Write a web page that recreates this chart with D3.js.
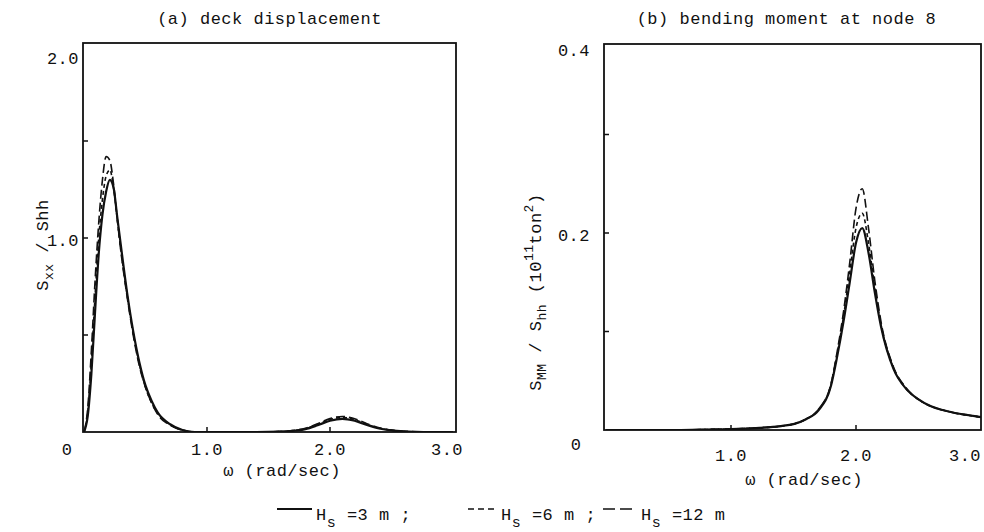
<!DOCTYPE html>
<html>
<head>
<meta charset="utf-8">
<script src="https://cdn.jsdelivr.net/npm/d3@7"></script>
<style>
  body { margin: 0; background: #fff; }
  text { font-family: "Liberation Mono", monospace; font-size: 17px; letter-spacing: 0.5px; fill: #111; }
</style>
</head>
<body>
<div id="graf"></div>
<script>
// I. Datos
// (a) deck displacement
omegaA = [0, 0.03, 0.06, 0.09, 0.12, 0.15, 0.18, 0.21, 0.24, 0.27, 0.30, 0.35, 0.40, 0.45, 0.50,
          0.55, 0.60, 0.70, 0.80, 0.90, 1.0, 1.2, 1.4, 1.6, 1.7, 1.8, 1.9, 2.0, 2.1, 2.2, 2.3,
          2.4, 2.5, 2.6, 2.7, 2.8, 3.0]
sxx3  = [0, 0.08, 0.30, 0.62, 0.92, 1.12, 1.24, 1.30, 1.26, 1.11, 0.96, 0.72, 0.52, 0.36, 0.24,
         0.16, 0.10, 0.04, 0.01, 0, 0, 0, 0, 0.002, 0.006, 0.015, 0.035, 0.058, 0.068, 0.058, 0.036,
         0.018, 0.008, 0.003, 0.001, 0, 0]
sxx6  = [0, 0.10, 0.36, 0.70, 1.00, 1.20, 1.32, 1.35, 1.26, 1.10, 0.94, 0.71, 0.51, 0.35, 0.23,
         0.15, 0.095, 0.038, 0.01, 0, 0, 0, 0, 0.002, 0.007, 0.017, 0.04, 0.064, 0.075, 0.064, 0.04,
         0.02, 0.009, 0.003, 0.001, 0, 0]
sxx12 = [0, 0.12, 0.42, 0.78, 1.08, 1.30, 1.42, 1.40, 1.28, 1.10, 0.93, 0.70, 0.50, 0.34, 0.23,
         0.15, 0.09, 0.035, 0.01, 0, 0, 0, 0, 0.003, 0.008, 0.019, 0.043, 0.069, 0.080, 0.068, 0.043,
         0.022, 0.01, 0.004, 0.001, 0, 0]

// (b) bending moment at node 8
omegaB = [0, 0.2, 0.4, 0.6, 0.8, 1.0, 1.2, 1.4, 1.5, 1.6, 1.7, 1.8, 1.85, 1.9, 1.95, 2.0, 2.05,
          2.1, 2.15, 2.2, 2.3, 2.4, 2.5, 2.6, 2.7, 2.8, 2.9, 3.0]
smm3  = [0, 0, 0, 0, 0.0005, 0.001, 0.002, 0.004, 0.006, 0.011, 0.02, 0.045, 0.075, 0.11, 0.15, 0.19, 0.205,
         0.18, 0.14, 0.105, 0.062, 0.042, 0.031, 0.024, 0.02, 0.017, 0.015, 0.013]
smm6  = [0, 0, 0, 0, 0.0005, 0.001, 0.002, 0.004, 0.006, 0.011, 0.021, 0.046, 0.078, 0.115, 0.16, 0.205, 0.22,
         0.19, 0.145, 0.107, 0.063, 0.042, 0.031, 0.024, 0.02, 0.017, 0.015, 0.013]
smm12 = [0, 0, 0, 0, 0.0005, 0.001, 0.002, 0.004, 0.006, 0.011, 0.021, 0.047, 0.08, 0.12, 0.17, 0.225, 0.245,
         0.205, 0.152, 0.11, 0.064, 0.043, 0.031, 0.024, 0.02, 0.017, 0.015, 0.013]

seriesNames = ['H_s =3 m ;', 'H_s =6 m ;', 'H_s =12 m']
dashes = [null, '4,3', '9,4']
anchos = [2.2, 1.6, 1.6]

xTicksA = [1.0, 2.0, 3.0]
yTicksA = [1.0, 2.0]
yMinorA = [0.5, 1.0, 1.5]
xTicksB = [1.0, 2.0, 3.0]
yTicksB = [0.2, 0.4]
yMinorB = [0.1, 0.2, 0.3]

// II. Configuración
ancho_total = 984
alto_total = 532

svg = d3.select('#graf').append('svg')
        .attr('width', ancho_total)
        .attr('height', alto_total)

panels = [
  { title: '(a) deck displacement', omega: omegaA, ys: [sxx3, sxx6, sxx12],
    x: d3.scaleLinear().domain([0, 3]).range([84, 453]),
    y: d3.scaleLinear().domain([0, 2]).range([432, 44]),
    frame: { left: 83, right: 456, top: 43, bottom: 432 },
    xTicks: xTicksA, yTicks: yTicksA, yMinor: yMinorA,
    xLabelY: 455, lastShift: -6, zero: [67, 455], xTitle: [282, 476] },
  { title: '(b) bending moment at node 8', omega: omegaB, ys: [smm3, smm6, smm12],
    x: d3.scaleLinear().domain([0, 3]).range([606, 981]),
    y: d3.scaleLinear().domain([0, 0.4]).range([430, 36]),
    frame: { left: 604, right: 981, top: 44, bottom: 430 },
    xTicks: xTicksB, yTicks: yTicksB, yMinor: yMinorB,
    xLabelY: 461, lastShift: -16, zero: [576, 450], xTitle: [804, 485] }
]

// III. Dibujo
function drawPanel(p, i) {
  const g = svg.append('g')
  const f = p.frame

  g.append('clipPath').attr('id', 'clip' + i)
    .append('rect')
      .attr('x', f.left).attr('y', f.top - 10)
      .attr('width', f.right - f.left).attr('height', f.bottom - f.top + 10)

  // curvas
  const line = d3.line()
                 .x(d => p.x(d[0]))
                 .y(d => p.y(d[1]))
                 .curve(d3.curveMonotoneX)

  p.ys.forEach((vals, k) => {
    g.append('path')
      .datum(p.omega.map((w, j) => [w, vals[j]]))
      .attr('d', line)
      .attr('clip-path', `url(#clip${i})`)
      .attr('fill', 'none')
      .attr('stroke', '#111')
      .attr('stroke-width', anchos[k])
      .attr('stroke-dasharray', dashes[k])
  })

  // marco
  g.append('rect')
    .attr('x', f.left).attr('y', f.top)
    .attr('width', f.right - f.left).attr('height', f.bottom - f.top)
    .attr('fill', 'none')
    .attr('stroke', '#111')
    .attr('stroke-width', 1.8)

  // marcas interiores
  g.selectAll('.xt').data(p.xTicks.slice(0, 2)).enter()
    .append('line')
      .attr('x1', d => p.x(d)).attr('x2', d => p.x(d))
      .attr('y1', f.bottom).attr('y2', f.bottom - 5)
      .attr('stroke', '#111').attr('stroke-width', 1.5)
  g.selectAll('.yt').data(p.yMinor).enter()
    .append('line')
      .attr('x1', f.left).attr('x2', f.left + 5)
      .attr('y1', d => p.y(d)).attr('y2', d => p.y(d))
      .attr('stroke', '#111').attr('stroke-width', 1.5)

  // etiquetas de ejes
  const fmt = d3.format('.1f')
  g.selectAll('.xl').data(p.xTicks).enter()
    .append('text')
      .attr('x', d => p.x(d) + (d === 3 ? p.lastShift : 0))
      .attr('y', p.xLabelY)
      .attr('text-anchor', 'middle')
      .text(fmt)
  g.selectAll('.yl').data(p.yTicks).enter()
    .append('text')
      .attr('x', f.left - (i ? 14 : 4))
      .attr('y', (d, j) => p.y(d) + (j === p.yTicks.length - 1 ? 20 : 8))
      .attr('text-anchor', 'end')
      .text(fmt)
  g.append('text')
    .attr('x', p.zero[0]).attr('y', p.zero[1])
    .attr('text-anchor', 'middle')
    .text('0')

  g.append('text')
    .attr('x', (f.left + f.right) / 2 + (i ? -6 : 0))
    .attr('y', 24)
    .attr('text-anchor', 'middle')
    .text(p.title)

  g.append('text')
    .attr('x', p.xTitle[0])
    .attr('y', p.xTitle[1])
    .attr('text-anchor', 'middle')
    .text('ω (rad/sec)')
}

panels.forEach(drawPanel)

// títulos de eje y
yl1 = svg.append('text')
         .attr('transform', 'translate(48, 245) rotate(-90)')
         .attr('text-anchor', 'middle')
yl1.append('tspan').text('S')
yl1.append('tspan').attr('dy', 5).style('font-size', '13px').text('xx')
yl1.append('tspan').attr('dy', -5).text(' / Shh')

yl2 = svg.append('text')
         .attr('transform', 'translate(541, 292) rotate(-90)')
         .attr('text-anchor', 'middle')
yl2.append('tspan').text('S')
yl2.append('tspan').attr('dy', 5).style('font-size', '13px').text('MM')
yl2.append('tspan').attr('dy', -5).text(' / S')
yl2.append('tspan').attr('dy', 5).style('font-size', '13px').text('hh')
yl2.append('tspan').attr('dy', -5).text(' (10')
yl2.append('tspan').attr('dy', -8).style('font-size', '13px').text('11')
yl2.append('tspan').attr('dy', 8).text('ton')
yl2.append('tspan').attr('dy', -8).style('font-size', '13px').text('2')
yl2.append('tspan').attr('dy', 8).text(')')

// IV. Leyenda
legendX = [[277, 312], [468, 497], [603, 637]]
legend = svg.append('g')
seriesNames.forEach((name, k) => {
  const [x0, x1] = legendX[k]
  legend.append('line')
    .attr('x1', x0).attr('x2', x1)
    .attr('y1', 509).attr('y2', 509)
    .attr('stroke', '#111')
    .attr('stroke-width', anchos[k])
    .attr('stroke-dasharray', dashes[k] ? (k === 1 ? '6,4' : '12,5') : null)
  const parts = name.split('_')
  const t = legend.append('text').attr('x', x1 + 4).attr('y', 520)
  t.append('tspan').text(parts[0])
  t.append('tspan').attr('dy', 7).style('font-size', '15px').text(parts[1][0])
  t.append('tspan').attr('dy', -7).text(parts[1].slice(1))
})
</script>
</body>
</html>
